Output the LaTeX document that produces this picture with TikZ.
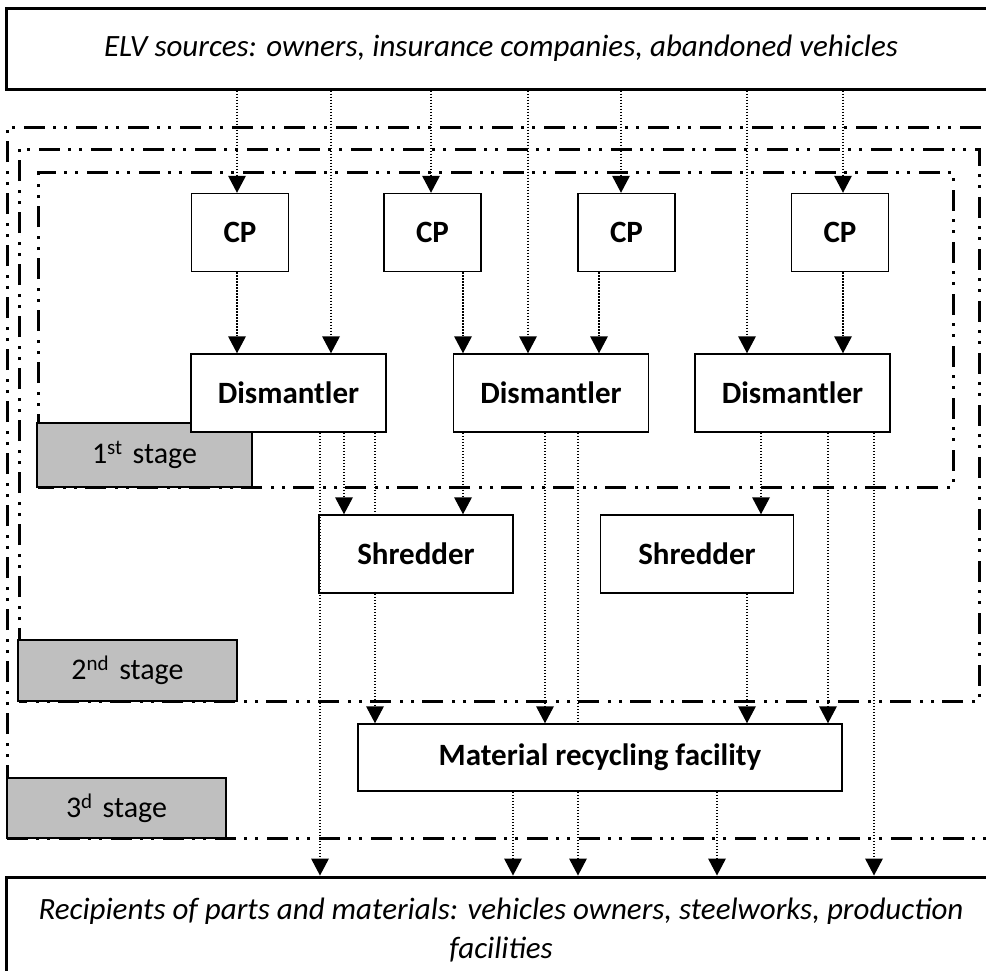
\documentclass[tikz,border=0pt]{standalone}
\usepackage{fontspec}
\setmainfont{Carlito}
\usetikzlibrary{arrows.meta}
\tikzset{
  frame/.style={line width=3pt, dash pattern=on 21pt off 8pt on 3pt off 8pt on 3pt off 9pt},
  bigbox/.style={draw, line width=3pt, fill=white, inner sep=0pt, font=\fontsize{31}{39}\selectfont\itshape},
  unit/.style={draw, line width=1.5pt, fill=white, inner sep=0pt, font=\fontsize{31}{36}\selectfont\bfseries},
  stagebox/.style={draw, line width=1.5pt, fill=black!25, inner sep=0pt, font=\fontsize{30}{36}\selectfont},
  arr/.style={line width=2.4pt, dash pattern=on 1.5pt off 1.5pt, -{Triangle[width=18pt,length=17pt,line width=0pt, sep=0pt]}},
  lin/.style={line width=2.4pt, dash pattern=on 1.5pt off 1.5pt},
}
\begin{document}
\begin{tikzpicture}[x=1pt,y=-1pt]
\useasboundingbox (0,0) rectangle (986,970);
\clip (0,0) rectangle (986,970);
\fill[white] (0,0) rectangle (986,970);

% stage frames
\draw[frame] (7,838) -- (7,127) -- (996,127);
\draw[frame] (7,838) -- (996,838);
\draw[frame] (19,701) -- (19,149) -- (979,149) -- (979,701) -- cycle;
\draw[frame] (38,487) -- (38,172) -- (953,172) -- (953,487) -- cycle;

% stage labels
\node[stagebox, minimum width=215, minimum height=64] (st1) at (144.5,455) {1\textsuperscript{st}\,\,stage};
\node[stagebox, minimum width=219, minimum height=61] (st2) at (127.5,670.5) {2\textsuperscript{nd}\,\,stage};
\node[stagebox, minimum width=219, minimum height=60] (st3) at (116.5,808) {3\textsuperscript{d}\,\,stage};

% end boxes
\node[bigbox, minimum width=990, minimum height=81] (top) at (501,48.5) {ELV sources: owners, insurance companies, abandoned vehicles};
\node[bigbox, minimum width=990, minimum height=106, align=center] (bot) at (501,930) {Recipients of parts and materials: vehicles owners, steelworks, production\\facilities};

% x positions of connectors
\foreach \n/\x in {a/237,b/331,c/431,d/528,e/621,f/747,g/843,h/463,i/599,
  j/320,k/344,l/375,m/545,n/578,o/761,p/828,q/874,r/513,s/717}
  \coordinate (x\n) at (\x,0);

% units
\node[unit, minimum width=97, minimum height=78] (cp1) at (240,232.5) {CP};
\node[unit, minimum width=97, minimum height=78] (cp2) at (432.5,232.5) {CP};
\node[unit, minimum width=97, minimum height=78] (cp3) at (626.5,232.5) {CP};
\node[unit, minimum width=97, minimum height=78] (cp4) at (840,232.5) {CP};
\node[unit, minimum width=195, minimum height=78] (d1) at (288.5,393) {Dismantler};
\node[unit, minimum width=195, minimum height=78] (d2) at (551,393) {Dismantler};
\node[unit, minimum width=195, minimum height=78] (d3) at (792.5,393) {Dismantler};
\node[unit, minimum width=194, minimum height=78] (s1) at (416,554) {Shredder};
\node[unit, minimum width=193, minimum height=78] (s2) at (697,554) {Shredder};
\node[unit, minimum width=484, minimum height=67] (mrf) at (600,757.5) {Material recycling facility};

% sources -> CP / dismantlers
\draw[arr] (top.south -| xa) -- (cp1.north -| xa);
\draw[arr] (top.south -| xb) -- (d1.north -| xb);
\draw[arr] (top.south -| xc) -- (cp2.north -| xc);
\draw[arr] (top.south -| xd) -- (d2.north -| xd);
\draw[arr] (top.south -| xe) -- (cp3.north -| xe);
\draw[arr] (top.south -| xf) -- (d3.north -| xf);
\draw[arr] (top.south -| xg) -- (cp4.north -| xg);
% CP -> dismantlers
\draw[arr] (cp1.south -| xa) -- (d1.north -| xa);
\draw[arr] (cp2.south -| xh) -- (d2.north -| xh);
\draw[arr] (cp3.south -| xi) -- (d2.north -| xi);
\draw[arr] (cp4.south -| xg) -- (d3.north -| xg);
% dismantler 1
\draw[arr] (d1.south -| xj) -- (bot.north -| xj);
\draw[arr] (d1.south -| xk) -- (s1.north -| xk);
\draw[lin] (d1.south -| xl) -- (s1.north -| xl);
% dismantler 2
\draw[arr] (d2.south -| xh) -- (s1.north -| xh);
\draw[arr] (d2.south -| xm) -- (mrf.north -| xm);
\draw[lin] (d2.south -| xn) -- (mrf.north -| xn);
% dismantler 3
\draw[arr] (d3.south -| xo) -- (s2.north -| xo);
\draw[arr] (d3.south -| xp) -- (mrf.north -| xp);
\draw[arr] (d3.south -| xq) -- (bot.north -| xq);
% shredders
\draw[arr] (s1.south -| xl) -- (mrf.north -| xl);
\draw[arr] (s2.south -| xf) -- (mrf.north -| xf);
% MRF
\draw[arr] (mrf.south -| xr) -- (bot.north -| xr);
\draw[arr] (mrf.south -| xn) -- (bot.north -| xn);
\draw[arr] (mrf.south -| xs) -- (bot.north -| xs);

% redraw shredder 1 edge over passing line
\draw[line width=1.5pt] (s1.north west) -- (s1.south west);
\end{tikzpicture}
\end{document}
